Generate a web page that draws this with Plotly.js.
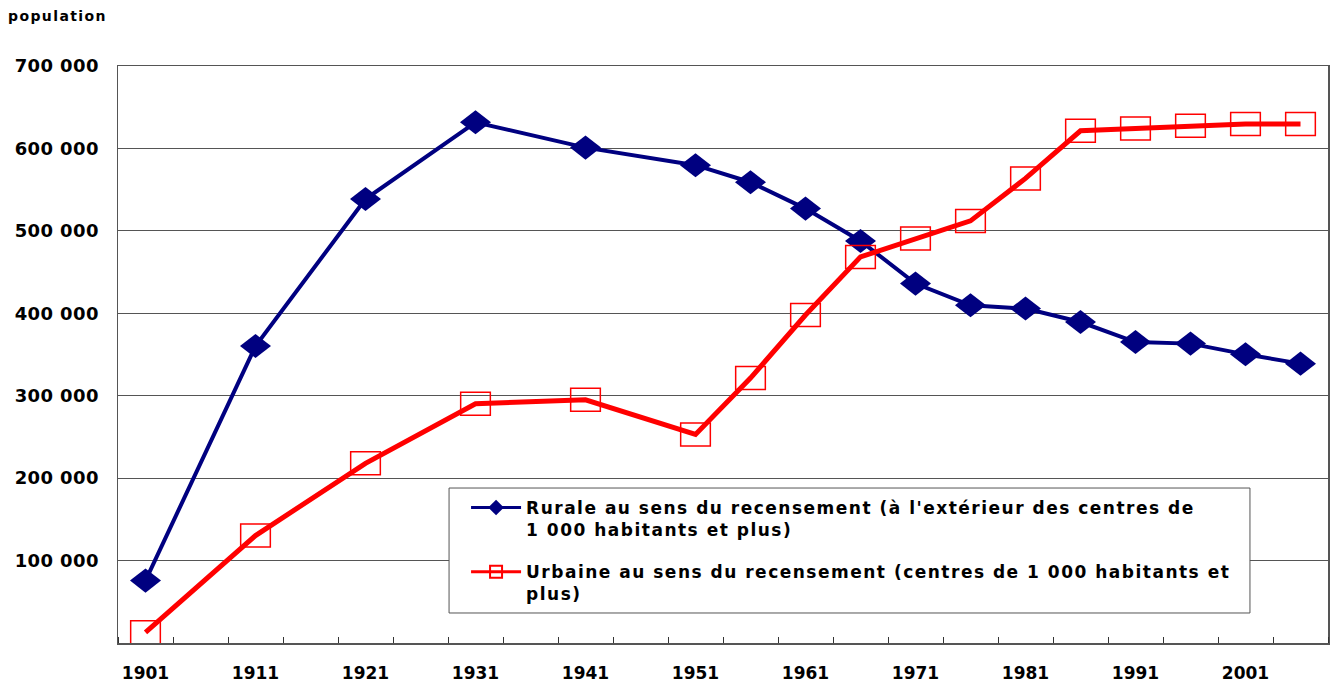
<!DOCTYPE html>
<html>
<head>
<meta charset="utf-8">
<script src="https://cdn.plot.ly/plotly-3.0.1.min.js"></script>
<style>
  html, body { margin: 0; padding: 0; background: #ffffff; }
  #chart { width: 1333px; height: 683px; }
  #chart .legendtext { letter-spacing: 1.5px; }
  #chart .legend .scrollbox { clip-path: none !important; }
  #chart .legend .legendlines path { stroke-width: 3px !important; }
  #chart .ytick text { letter-spacing: 0.4px; }
  #chart .annotation-text { letter-spacing: 1.4px; }
  #chart .scatterlayer path.point { vector-effect: non-scaling-stroke; }
</style>
</head>
<body>
<div id="chart"></div>
<script>
// ---- data ----
const years = [1901, 1911, 1921, 1931, 1941, 1951, 1956, 1961, 1966, 1971, 1976, 1981, 1986, 1991, 1996, 2001, 2006];
const rurale = [75700, 360300, 538600, 631700, 601000, 579700, 559000, 527000, 487800, 436000, 409700, 405700, 389400, 365100, 363200, 350200, 338900];
const urbaine = [13000, 130300, 218000, 290300, 295000, 253000, 321400, 397900, 468400, 490700, 512100, 563600, 621400, 624300, 627500, 629500, 629500];
const seriesNames = [
  "Rurale au sens du recensement (à l'extérieur des centres de<br>1 000 habitants et plus)",
  "Urbaine au sens du recensement (centres de 1 000 habitants et<br>plus)"
];
const xTickVals = [1901, 1911, 1921, 1931, 1941, 1951, 1961, 1971, 1981, 1991, 2001];
const xTickText = ["1901", "1911", "1921", "1931", "1941", "1951", "1961", "1971", "1981", "1991", "2001"];
const yTickVals = [100000, 200000, 300000, 400000, 500000, 600000, 700000];
const yTickText = ["100 000", "200 000", "300 000", "400 000", "500 000", "600 000", "700 000"];
const yAxisLabel = "population";

const FONT = "DejaVu Sans, Arial, sans-serif";
const MARKER_XSTRETCH = 1.29;

const traces = [
  {
    x: years, y: rurale, name: seriesNames[0], type: "scatter", mode: "lines+markers",
    legendgroup: "a",
    line: { color: "#000080", width: 4 },
    marker: { symbol: "diamond", size: 18.5, color: "#000080", line: { width: 0 } }
  },
  {
    x: years, y: urbaine, name: seriesNames[1], type: "scatter", mode: "lines+markers",
    legendgroup: "b",
    line: { color: "#FF0000", width: 5 },
    marker: { symbol: "square-open", size: 23, color: "#FF0000", line: { width: 1.5 } }
  }
];

const layout = {
  width: 1333, height: 683,
  margin: { l: 118, r: 5, t: 66, b: 40, pad: 0 },
  paper_bgcolor: "#ffffff", plot_bgcolor: "#ffffff",
  font: { family: FONT, size: 18, color: "#000000", weight: "bold" },
  showlegend: true,
  legend: {
    x: 0.2736, y: 0.2652, xanchor: "left", yanchor: "top",
    bgcolor: "rgba(0,0,0,0)", borderwidth: 0,
    font: { family: FONT, size: 17, color: "#000000", weight: "bold" },
    itemwidth: 50, itemsizing: "constant", tracegroupgap: 17, valign: "top", indentation: 17
  },
  shapes: [
    {
      type: "rect", xref: "paper", yref: "paper", layer: "above",
      x0: 0.2736, x1: 0.9355, y0: 0.052, y1: 0.2686,
      fillcolor: "#ffffff", line: { color: "#555555", width: 1 }
    }
  ],
  xaxis: {
    range: [1898.5, 2008.5], fixedrange: true,
    tickmode: "array", tickvals: xTickVals, ticktext: xTickText,
    ticks: "", ticklabelstandoff: 14,
    showgrid: false, zeroline: false,
    showline: true, linecolor: "#555555", linewidth: 1.5, mirror: true,
    tickfont: { family: FONT, size: 17, color: "#000000", weight: "bold" },
    minor: { tickmode: "linear", tick0: 1903.5, dtick: 5, ticks: "inside", ticklen: 6, tickwidth: 1, tickcolor: "#333333", showgrid: false }
  },
  yaxis: {
    range: [0, 700000], fixedrange: true,
    tickmode: "array", tickvals: yTickVals, ticktext: yTickText,
    ticks: "", ticklabelstandoff: 14,
    showgrid: true, gridcolor: "#555555", gridwidth: 1,
    zeroline: false,
    showline: true, linecolor: "#555555", linewidth: 1.5, mirror: true,
    tickfont: { family: FONT, size: 18, color: "#000000", weight: "bold" }
  },
  annotations: [
    {
      text: yAxisLabel, xref: "paper", yref: "paper",
      x: -0.0926, y: 1.0867, xanchor: "left", yanchor: "middle", align: "left",
      showarrow: false,
      font: { family: FONT, size: 14, color: "#000000", weight: "bold" }
    }
  ]
};

Plotly.newPlot("chart", traces, layout, { staticPlot: true, displayModeBar: false }).then(function (gd) {
  // widen the markers horizontally, as in the (horizontally stretched) original
  gd.querySelectorAll(".scatterlayer path.point").forEach(function (p) {
    const t = p.getAttribute("transform") || "";
    p.setAttribute("transform", t + " scale(" + MARKER_XSTRETCH + ",1)");
  });
});
</script>
</body>
</html>
